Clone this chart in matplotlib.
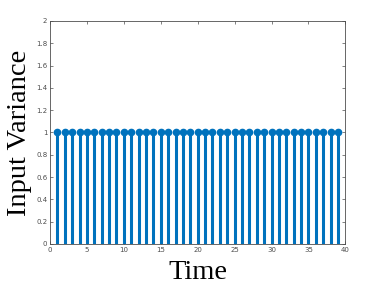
import matplotlib
matplotlib.use("Agg")
import matplotlib.pyplot as plt
import numpy as np

time = list(range(1, 40))
variance = [1.0] * 39
xticks = [0, 5, 10, 15, 20, 25, 30, 35, 40]
yticks = [0, 0.2, 0.4, 0.6, 0.8, 1, 1.2, 1.4, 1.6, 1.8, 2]
yticklabels = ["0", "0.2", "0.4", "0.6", "0.8", "1", "1.2", "1.4", "1.6", "1.8", "2"]

fig = plt.figure(figsize=(3.82, 2.87), dpi=100)
ax = fig.add_axes([0.131, 0.150, 0.773, 0.777])
color = "#0072BD"
ml, sl, bl = ax.stem(time, variance, basefmt=" ")
plt.setp(sl, color=color, linewidth=2.2)
plt.setp(ml, color=color, markersize=4.5, markerfacecolor=color, markeredgecolor=color)
ax.set_xlim(0, 40)
ax.set_ylim(0, 2)
ax.set_xticks(xticks)
ax.set_yticks(yticks)
ax.set_yticklabels(yticklabels)
ax.tick_params(direction="in", top=True, right=True, labelsize=5, colors="#4d4d4d",
               length=2.5, width=0.5, pad=2)
for s in ax.spines.values():
    s.set_color("#4d4d4d")
    s.set_linewidth(0.6)
ax.set_xlabel("Time", fontsize=20.5, family="Liberation Serif", labelpad=5)
ax.set_ylabel("Input Variance", fontsize=20.5, family="Liberation Serif", labelpad=3)
fig.savefig("out.png", dpi=100)
